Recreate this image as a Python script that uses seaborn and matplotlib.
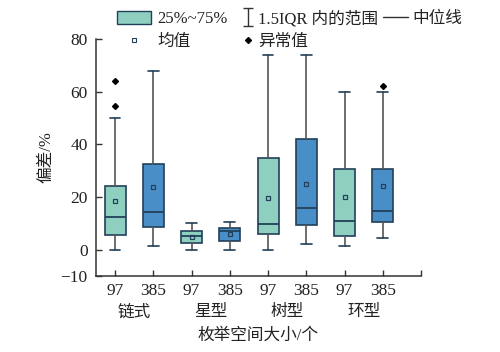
import matplotlib
matplotlib.use("Agg")
import matplotlib.pyplot as plt
import seaborn as sns
from matplotlib.patches import Patch
from matplotlib.lines import Line2D
from matplotlib.path import Path

sns.set_theme(style="ticks")
plt.rcParams['font.family'] = ['Liberation Serif', 'Noto Sans CJK SC', 'DejaVu Sans']
plt.rcParams['axes.unicode_minus'] = True

topologies = ["链式", "星型", "树型", "环型"]
sizes = ["97", "385"]
whislo = [0, 1.4, 0, 0, 0, 2.2, 1.3, 4.4]
q1 = [5.6, 8.6, 2.5, 3.3, 6.0, 9.4, 5.1, 10.6]
med = [12.4, 14.4, 5.1, 7.2, 9.9, 15.7, 10.8, 14.6]
q3 = [24.0, 32.4, 7.2, 8.1, 34.8, 42.0, 30.5, 30.5]
whishi = [50, 68, 10.3, 10.4, 74, 74, 60, 60]
means = [18.4, 23.9, 4.7, 6.1, 19.7, 24.8, 19.9, 24.1]
fliers = [[64.2, 54.4], [], [], [], [], [], [], [62.2]]

teal = "#8ecfc0"
blue = "#4a8ec8"
edge = "#22405a"
grey = "#555555"
txt = "#222222"

W, H = 500, 352
fig, ax = plt.subplots(figsize=(5.0, 3.52), dpi=100)
fig.subplots_adjust(left=0.192, right=0.842, top=0.889, bottom=0.216)

stats = []
for i in range(8):
    stats.append(dict(whislo=whislo[i], q1=q1[i], med=med[i], q3=q3[i],
                      whishi=whishi[i], mean=means[i], fliers=fliers[i]))

bp = ax.bxp(stats, positions=list(range(8)), widths=0.55, patch_artist=True,
            showmeans=True, showfliers=True,
            boxprops=dict(edgecolor=edge, linewidth=1.2),
            medianprops=dict(color=edge, linewidth=1.3),
            whiskerprops=dict(color=grey, linewidth=1.2),
            capprops=dict(color=edge, linewidth=1.2),
            meanprops=dict(marker="s", markersize=3.5, markerfacecolor="none",
                           markeredgecolor=edge, markeredgewidth=0.9),
            flierprops=dict(marker="D", markersize=3, markerfacecolor="black",
                            markeredgecolor="black"))
for i, b in enumerate(bp['boxes']):
    b.set_facecolor(teal if i % 2 == 0 else blue)
for c in bp['caps']:
    x = c.get_xdata()
    cx = (x[0] + x[1]) / 2
    c.set_xdata([cx - 0.14, cx + 0.14])

ax.set_xlim(-0.5, 8)
ax.set_ylim(-10, 80)
ax.set_yticks([-10, 0, 20, 40, 60, 80])
ax.set_yticklabels(["−10", "0", "20", "40", "60", "80"])
ax.set_xticks(list(range(8)) + [8])
ax.set_xticklabels([sizes[i % 2] for i in range(8)] + [""])
ax.tick_params(axis='both', labelsize=12.5, length=4, width=1, color="#333333",
               labelcolor=txt, direction='in')
ax.tick_params(axis='x', pad=5)
ax.tick_params(axis='y', pad=6)
for s in ["top", "right"]:
    ax.spines[s].set_visible(False)
for s in ["left", "bottom"]:
    ax.spines[s].set_color("#333333")
    ax.spines[s].set_linewidth(1.1)

for k, name in enumerate(topologies):
    ax.text(2 * k + 0.5, -0.12, name, transform=ax.get_xaxis_transform(),
            ha="center", va="top", fontsize=12, color=txt)
ax.set_xlabel("枚举空间大小/个", fontsize=12, color=txt, labelpad=21)
ax.set_ylabel("偏差/%", fontsize=12, color=txt, labelpad=4)

ibeam = Path([(-0.5, -1), (0.5, -1), (0, -1), (0, 1), (-0.5, 1), (0.5, 1)],
             [Path.MOVETO, Path.LINETO, Path.MOVETO, Path.LINETO,
              Path.MOVETO, Path.LINETO])
fs = 12
em = fs * 100 / 72.0


def add_leg(handles, labels, x_px, hlen_px, pad_px):
    leg = fig.legend(handles, labels, loc="upper left",
                     bbox_to_anchor=(x_px / W, 1 - 11 / H), frameon=False,
                     fontsize=fs, handlelength=hlen_px / em,
                     handleheight=0.8, handletextpad=pad_px / em,
                     labelspacing=0.38, borderpad=0, borderaxespad=0)
    for t in leg.get_texts():
        t.set_color(txt)
    return leg


add_leg([Patch(facecolor=teal, edgecolor=edge, linewidth=1),
         Line2D([], [], marker="s", linestyle="none", markersize=3.5,
                markerfacecolor="none", markeredgecolor=edge,
                markeredgewidth=0.8)],
        ["25%~75%", "均值"], 117, 34, 6)
add_leg([Line2D([], [], marker=ibeam, linestyle="none", markersize=13,
                markeredgewidth=1, color="#333333", fillstyle="none"),
         Line2D([], [], marker="D", linestyle="none", markersize=3,
                color="black")],
        ["1.5IQR 内的范围", "异常值"], 242, 12, 4)
add_leg([Line2D([], [], color="#333333", linewidth=1)],
        ["中位线"], 383, 25, 4)

fig.savefig("out.png", dpi=100)
